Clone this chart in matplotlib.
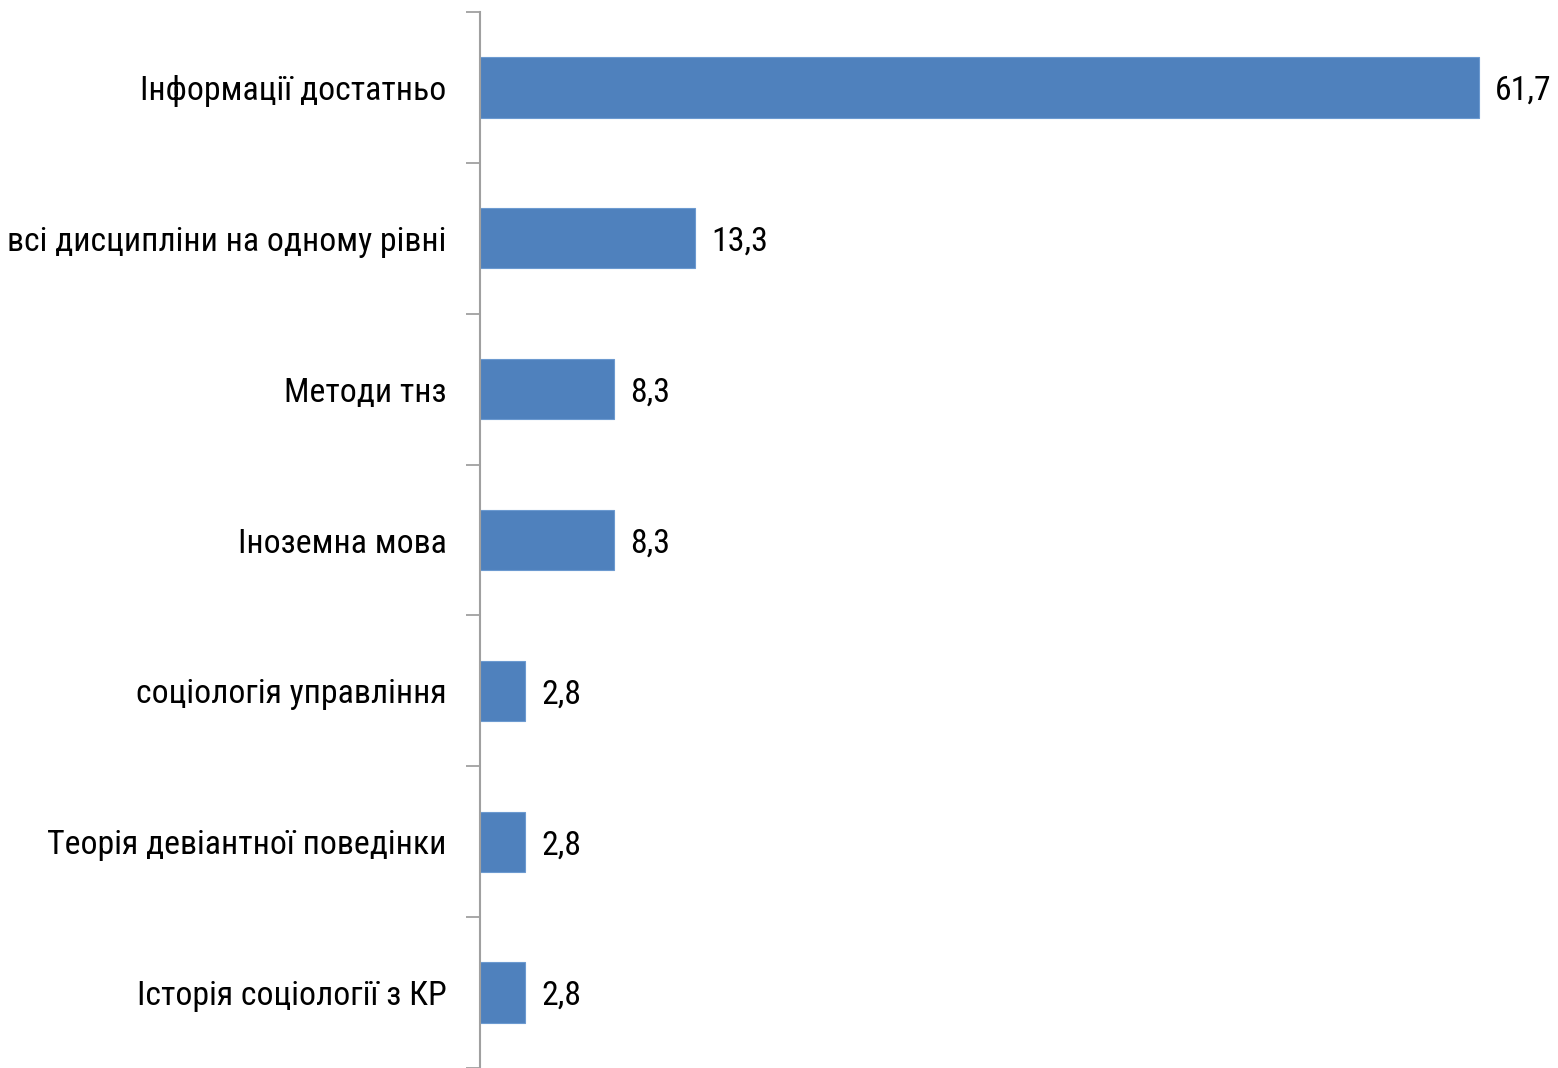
import matplotlib
matplotlib.use("Agg")
import matplotlib.pyplot as plt

categories = ["Інформації достатньо", "всі дисципліни на одному рівні", "Методи тнз",
              "Іноземна мова", "соціологія управління", "Теорія девіантної поведінки",
              "Історія соціології з КР"]
values = [61.7, 13.3, 8.3, 8.3, 2.8, 2.8, 2.8]
value_labels = ["61,7", "13,3", "8,3", "8,3", "2,8", "2,8", "2,8"]

plt.rcParams['font.family'] = ['Roboto Condensed', 'DejaVu Sans']

W, H = 1558, 1068
fig = plt.figure(figsize=(W/100, H/100), dpi=100)
ax = fig.add_axes([480/W, 0, 1078/W, 1056/H])

n = len(categories)
ypos = list(range(n))
ax.barh(ypos, values, height=0.4, color="#4F81BD", edgecolor="#6C9AD0", linewidth=0.8, zorder=2)
ax.set_ylim(n - 0.5, -0.5)
ax.set_xlim(0, 1078/16.19)

FS = 24.3
ax.set_yticks(ypos)
ax.set_yticklabels(categories, fontsize=FS)
ax.tick_params(axis='y', which='major', length=0, pad=24)
ax.set_yticks([i - 0.5 for i in range(n + 1)], minor=True)
ax.tick_params(axis='y', which='minor', length=10, width=1.3, color="#A0A0A0", direction='out')
ax.set_xticks([])

for s in ["top", "right", "bottom"]:
    ax.spines[s].set_visible(False)
ax.spines["left"].set_color("#A0A0A0")
ax.spines["left"].set_linewidth(1.5)

for y, v, lab in zip(ypos, values, value_labels):
    ax.text(v + 1.0, y, lab, va='center_baseline', ha='left', fontsize=FS)

fig.savefig("out.png", dpi=100)
